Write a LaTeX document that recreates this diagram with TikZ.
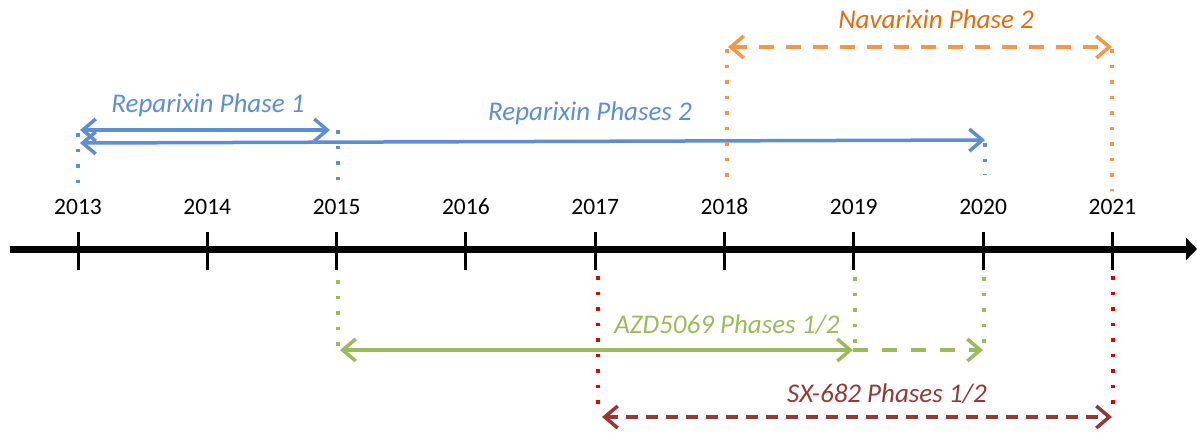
\documentclass[tikz,border=0pt]{standalone}
\usepackage{fontspec}
\setmainfont{Carlito}
\usepackage{xcolor}
\usetikzlibrary{arrows.meta}

\definecolor{repblue}{HTML}{5B8ED6}
\definecolor{navorange}{HTML}{F79646}
\definecolor{navtext}{HTML}{E46C0A}
\definecolor{azdgreen}{HTML}{9BBB59}
\definecolor{sxred}{HTML}{953735}
\definecolor{sxdot}{HTML}{E00000}

\begin{document}
\begin{tikzpicture}[
    x=1pt, y=-1pt,
    yearlabel/.style={font=\fontsize{23.5}{27}\selectfont, inner sep=0pt},
    phaselabel/.style={font=\fontsize{27}{31}\selectfont\itshape, inner sep=0pt},
    axisline/.style={line width=7pt, -{Triangle[length=11pt,width=22pt]}},
    tickmark/.style={line width=3pt},
    dotline/.style={line width=3.5pt, dash pattern=on 3.5pt off 12pt},
    spanarrow/.style={line width=3.5pt, {Straight Barb[length=13pt,width=22pt]}-{Straight Barb[length=13pt,width=22pt]}},
    dashspan/.style={spanarrow, dash pattern=on 15pt off 12pt}
]
\useasboundingbox (0,0) rectangle (1197,432);

% years and ticks
\foreach \yr [count=\i from 0] in {2013,...,2021}{
    \coordinate (t\yr) at ({78+129.3*\i},232);
    \coordinate (b\yr) at ({78+129.3*\i},270);
    \node[yearlabel] (y\yr) at ({78+129.3*\i},207) {\yr};
}
\coordinate (axL) at (10,249);
\coordinate (axR) at (1197,249);
\draw[axisline] (axL) -- (axR);
\foreach \yr in {2013,...,2021}
    \draw[tickmark] (t\yr) -- (b\yr);

% Reparixin
\coordinate (rp1a) at (80,130);
\coordinate (rp1b) at (330,130);
\coordinate (rp2a) at (80,143);
\coordinate (rp2b) at (985,140);
\coordinate (rd13a) at (78,133);
\coordinate (rd13b) at (78,184);
\coordinate (rd15a) at (338,130);
\coordinate (rd15b) at (338,180);
\coordinate (rd20a) at (985,143);
\coordinate (rd20b) at (985,175);
\draw[dotline, repblue] (rd13a) -- (rd13b);
\draw[dotline, repblue] (rd15a) -- (rd15b);
\draw[dotline, repblue] (rd20a) -- (rd20b);
\draw[spanarrow, repblue] (rp1a) -- (rp1b);
\draw[spanarrow, repblue] (rp2a) -- (rp2b);
\node[phaselabel, text=repblue] (rp1lbl) at (208,105) {Reparixin Phase 1};
\node[phaselabel, text=repblue] (rp2lbl) at (590,113) {Reparixin Phases 2};

% Navarixin
\coordinate (nva) at (728,47);
\coordinate (nvb) at (1112,47);
\coordinate (nd18a) at (727,49);
\coordinate (nd18b) at (727,178);
\coordinate (nd21a) at (1112,49);
\coordinate (nd21b) at (1112,191);
\draw[dotline, navorange] (nd18a) -- (nd18b);
\draw[dotline, navorange] (nd21a) -- (nd21b);
\draw[dashspan, navorange] (nva) -- (nvb);
\node[phaselabel, text=navtext] (nvlbl) at (936,19) {Navarixin Phase 2};

% AZD5069
\coordinate (aza) at (340,350);
\coordinate (azm) at (853,350);
\coordinate (azb) at (983,350);
\coordinate (ad15a) at (338,280);
\coordinate (ad15b) at (338,346);
\coordinate (ad19a) at (855,277);
\coordinate (ad19b) at (855,346);
\coordinate (ad20a) at (984,277);
\coordinate (ad20b) at (984,346);
\draw[dotline, azdgreen] (ad15a) -- (ad15b);
\draw[dotline, azdgreen] (ad19a) -- (ad19b);
\draw[dotline, azdgreen] (ad20a) -- (ad20b);
\draw[spanarrow, azdgreen] (aza) -- (azm);
\draw[line width=3.5pt, azdgreen, dash pattern=on 15pt off 14pt, -{Straight Barb[length=13pt,width=22pt]}] (azm) -- (azb);
\node[phaselabel, text=azdgreen] (azlbl) at (727,325) {AZD5069 Phases 1/2};

% SX-682
\coordinate (sxa) at (602,417);
\coordinate (sxb) at (1112,417);
\coordinate (sd17a) at (598,276);
\coordinate (sd17b) at (598,414);
\coordinate (sd21a) at (1113,276);
\coordinate (sd21b) at (1113,406);
\draw[dotline, sxdot] (sd17a) -- (sd17b);
\draw[dotline, sxdot] (sd21a) -- (sd21b);
\draw[spanarrow, sxred, dash pattern=on 12pt off 8pt] (sxa) -- (sxb);
\node[phaselabel, text=sxred] (sxlbl) at (887,394) {SX-682 Phases 1/2};
\end{tikzpicture}
\end{document}
